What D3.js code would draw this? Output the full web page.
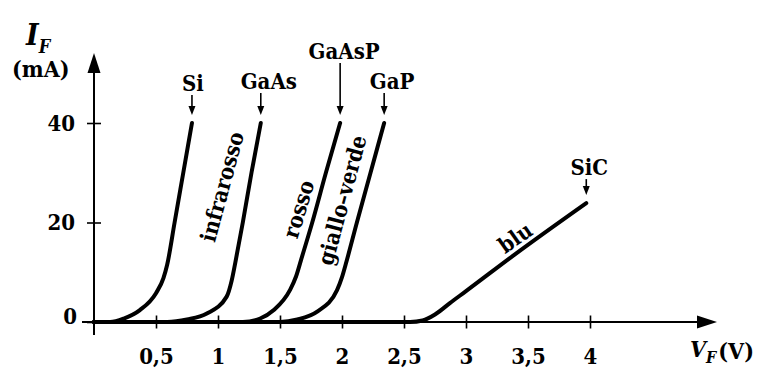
<!DOCTYPE html>
<html>
<head>
<meta charset="utf-8">
<script src="https://cdn.jsdelivr.net/npm/d3@7"></script>
<style>
  body { margin: 0; background: #fff; }
  svg { display: block; font-family: "DejaVu Serif Condensed", "DejaVu Serif", serif; font-stretch: condensed; font-weight: bold; }
</style>
</head>
<body>
<svg id="chart" width="762" height="368"></svg>
<script>
// LED forward characteristics: [V_F (V), I_F (mA)]
const materials = ["Si", "GaAs", "GaAsP", "GaP", "SiC"];
const siCurve = [[0,0],[0.13,0],[0.24,0.7],[0.37,2.4],[0.5,5.8],[0.56,8.8],[0.59,11.5],[0.65,20],[0.72,30],[0.79,40]];
const gaAsCurve = [[0,0],[0.59,0],[0.75,0.5],[0.91,1.7],[1.07,5.1],[1.11,8.3],[1.14,12],[1.2,20],[1.27,30],[1.345,40]];
const gaAsPCurve = [[0,0],[1.2,0],[1.34,0.7],[1.45,2.4],[1.58,6.4],[1.63,9.2],[1.67,12.5],[1.76,20],[1.87,30],[1.985,40]];
const gaPCurve = [[0,0],[1.5,0],[1.64,0.5],[1.8,2.1],[1.96,6.4],[2.0,9],[2.03,11.6],[2.12,20],[2.23,30],[2.34,40]];
const siCCurve = [[0,0],[2.55,0],[2.65,0.3],[2.75,1.5],[2.87,3.8],[3.0,6.2],[3.4,13.7],[3.97,23.9]];
const curves = [siCurve, gaAsCurve, gaAsPCurve, gaPCurve, siCCurve];

const colourNames = ["infrarosso", "rosso", "giallo\u2013verde", "blu"];
const xTicks = [0.5, 1, 1.5, 2, 2.5, 3, 3.5, 4];
const yTicks = [0, 20, 40];

// layout of annotations (pixels / data anchors)
const labelDx = [1, 8, 4, 8, 3];
const arrowLen = [20, 22, 52, 22, 16];
const colourAnchor = [[1.03, 27.2, -75], [1.648, 22.7, -73], [1.998, 24.5, -75], [3.395, 17.0, -35]];

const svg = d3.select("#chart");
const x = d3.scaleLinear().domain([0, 4]).range([94, 590]);
const y = d3.scaleLinear().domain([0, 40]).range([322, 123]);

// axes
const yAxis = svg.append("g")
  .attr("transform", `translate(${x(0)},0)`)
  .call(d3.axisLeft(y).tickValues(yTicks).tickSize(7).tickPadding(12));
const xAxis = svg.append("g")
  .attr("transform", `translate(0,${y(0)})`)
  .call(d3.axisBottom(x).tickValues(xTicks).tickSize(6.5).tickFormat(d => String(d).replace(".", ",")));

[yAxis, xAxis].forEach(g => {
  g.attr("font-family", null).attr("font-size", null);
  g.select(".domain").remove();
  g.selectAll(".tick line").attr("stroke", "#000").attr("stroke-width", 1.6);
  g.selectAll(".tick text")
    .attr("fill", "#000")
    .style("font-size", "22px");
});
yAxis.selectAll(".tick line").attr("x1", 7);
yAxis.selectAll(".tick text").filter(d => d === 0).attr("x", -17).attr("dy", "0.05em");
xAxis.selectAll(".tick line").attr("y1", -6.5);
xAxis.selectAll(".tick text").attr("y", 26);

// axis lines with arrow heads
const axisG = svg.append("g").attr("stroke", "#000").attr("stroke-width", 2);
axisG.append("line").attr("x1", x(0)).attr("x2", x(0)).attr("y1", y(0) + 13).attr("y2", 62);
axisG.append("line").attr("x1", x(0) - 12).attr("x2", 705).attr("y1", y(0)).attr("y2", y(0));
svg.append("path").attr("d", `M${x(0)},53 L${x(0) - 6.5},73 L${x(0) + 6.5},73 Z`).attr("fill", "#000");
svg.append("path").attr("d", `M717,${y(0)} L697,${y(0) - 6.5} L697,${y(0) + 6.5} Z`).attr("fill", "#000");

// characteristic curves
const line = d3.line().x(d => x(d[0])).y(d => y(d[1])).curve(d3.curveMonotoneX);
svg.append("g").selectAll("path")
  .data(curves)
  .join("path")
  .attr("d", line)
  .attr("fill", "none")
  .attr("stroke", "#000")
  .attr("stroke-width", 4)
  .attr("stroke-linecap", "round")
  .attr("stroke-linejoin", "round");

// material labels with arrows
const ann = svg.append("g");
curves.forEach((c, i) => {
  const top = c[c.length - 1];
  const ax = x(top[0]), tip = y(top[1]) - 8, tail = tip - arrowLen[i];
  ann.append("line").attr("x1", ax).attr("x2", ax).attr("y1", tail).attr("y2", tip - 6)
    .attr("stroke", "#000").attr("stroke-width", 1.6);
  ann.append("path").attr("d", `M${ax},${tip} L${ax - 3.5},${tip - 9} L${ax + 3.5},${tip - 9} Z`).attr("fill", "#000");
  ann.append("text")
    .attr("x", ax + labelDx[i])
    .attr("y", tail - 4)
    .attr("text-anchor", "middle")
    .style("font-size", "22px")
    .text(materials[i]);
});

// colour labels along the curves
svg.append("g").selectAll("text")
  .data(colourNames)
  .join("text")
  .attr("transform", (d, i) => `translate(${x(colourAnchor[i][0])},${y(colourAnchor[i][1])}) rotate(${colourAnchor[i][2]})`)
  .attr("text-anchor", "middle")
  .attr("dominant-baseline", "central")
  .style("font-size", "22px")
  .text(d => d);

// axis titles
const iTitle = svg.append("text").attr("x", 26).attr("y", 45).style("font-style", "italic");
iTitle.append("tspan").style("font-size", "30px").text("I");
iTitle.append("tspan").attr("dx", 0).attr("dy", 8).style("font-size", "18px").text("F");
svg.append("text").attr("x", 12).attr("y", 77).style("font-size", "23px").text("(mA)");
const vTitle = svg.append("text").attr("x", 690).attr("y", 357);
vTitle.append("tspan").style("font-size", "23px").style("font-style", "italic").text("V");
vTitle.append("tspan").attr("dx", 0).attr("dy", 6).style("font-size", "16px").style("font-style", "italic").text("F");
vTitle.append("tspan").attr("dx", 2).attr("dy", -4).style("font-size", "23px").text("(V)");
</script>
</body>
</html>
